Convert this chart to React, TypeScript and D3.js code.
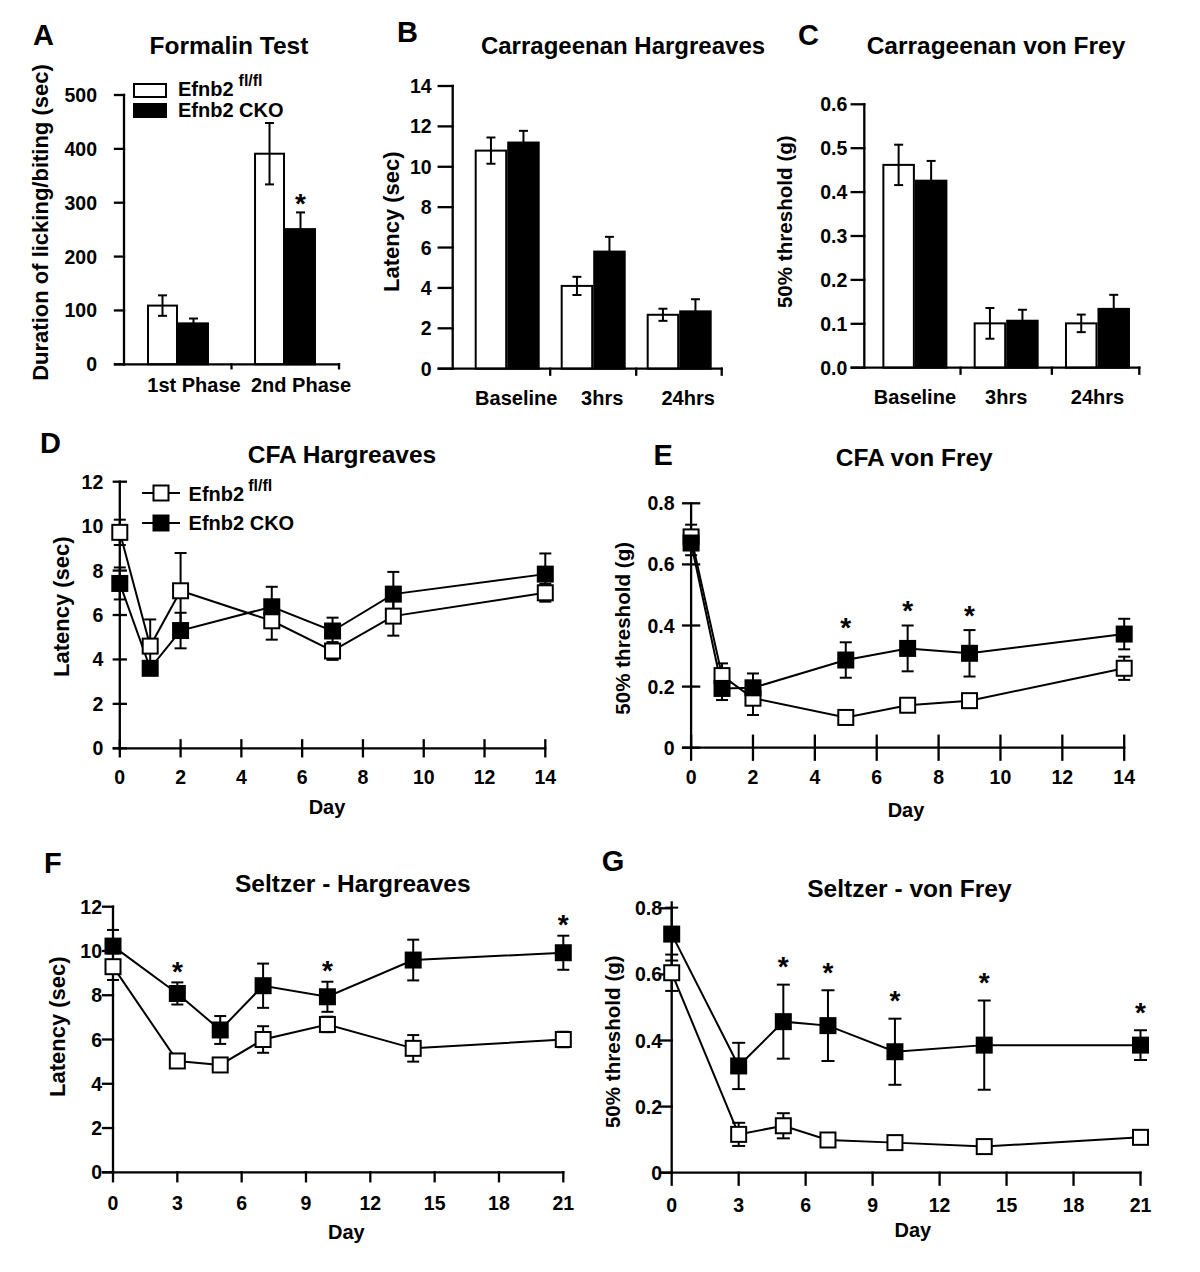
import React from "react";
import * as d3 from "d3";

const FONT = "'Liberation Sans', Arial, Helvetica, sans-serif";

// ---------- Legend ----------
const legendNames = ["Efnb2", "Efnb2 CKO"];
const legendSup = "fl/fl";

// ---------- A: Formalin test ----------
const formalinCategories = ["1st Phase", "2nd Phase"];
const formalinFlox = [109, 391];
const formalinFloxErr = [19, 57];
const formalinCko = [76, 251];
const formalinCkoErr = [9, 31];
const formalinSig = [false, true];
const formalinTicks = [0, 100, 200, 300, 400, 500];

// ---------- B: Carrageenan Hargreaves ----------
const carrCategories = ["Baseline", "3hrs", "24hrs"];
const carrHargFlox = [10.8, 4.1, 2.67];
const carrHargFloxErr = [0.65, 0.45, 0.3];
const carrHargCko = [11.2, 5.8, 2.84];
const carrHargCkoErr = [0.58, 0.73, 0.6];
const carrHargSig = [false, false, false];
const carrHargTicks = [0, 2, 4, 6, 8, 10, 12, 14];

// ---------- C: Carrageenan von Frey ----------
const carrVfFlox = [0.462, 0.101, 0.101];
const carrVfFloxErr = [0.046, 0.035, 0.02];
const carrVfCko = [0.426, 0.107, 0.134];
const carrVfCkoErr = [0.045, 0.025, 0.032];
const carrVfSig = [false, false, false];
const carrVfTicks = [0, 0.1, 0.2, 0.3, 0.4, 0.5, 0.6];

// ---------- D: CFA Hargreaves ----------
const cfaDays = [0, 1, 2, 5, 7, 9, 14];
const cfaDayTicks = [0, 2, 4, 6, 8, 10, 12, 14];
const cfaHargFlox = [9.72, 4.6, 7.09, 5.74, 4.38, 5.95, 7.0];
const cfaHargFloxErr = [0.57, 1.2, 1.7, 0.85, 0.4, 0.88, 0.4];
const cfaHargCko = [7.42, 3.6, 5.3, 6.37, 5.28, 6.94, 7.84];
const cfaHargCkoErr = [0.72, 0.3, 0.8, 0.9, 0.6, 1.0, 0.93];
const cfaHargSig = [false, false, false, false, false, false, false];
const latencyTicks12 = [0, 2, 4, 6, 8, 10, 12];

// ---------- E: CFA von Frey ----------
const cfaVfFlox = [0.69, 0.236, 0.162, 0.099, 0.139, 0.154, 0.26];
const cfaVfFloxErr = [0.04, 0.04, 0.055, 0.01, 0.02, 0.02, 0.038];
const cfaVfCko = [0.67, 0.194, 0.196, 0.287, 0.325, 0.309, 0.372];
const cfaVfCkoErr = [0.04, 0.038, 0.047, 0.058, 0.075, 0.076, 0.05];
const cfaVfSig = [false, false, false, true, true, true, false];
const threshTicks08 = [0, 0.2, 0.4, 0.6, 0.8];

// ---------- F: Seltzer Hargreaves ----------
const seltzerDays = [0, 3, 5, 7, 10, 14, 21];
const seltzerDayTicks = [0, 3, 6, 9, 12, 15, 18, 21];
const selHargFlox = [9.29, 5.03, 4.85, 6.0, 6.68, 5.6, 6.0];
const selHargFloxErr = [0.6, 0.15, 0.3, 0.6, 0.35, 0.6, 0.35];
const selHargCko = [10.22, 8.08, 6.43, 8.43, 7.93, 9.59, 9.92];
const selHargCkoErr = [0.73, 0.5, 0.63, 1.0, 0.68, 0.92, 0.77];
const selHargSig = [false, true, false, false, true, false, true];

// ---------- G: Seltzer von Frey ----------
const selVfFlox = [0.605, 0.116, 0.142, 0.099, 0.091, 0.079, 0.107];
const selVfFloxErr = [0.055, 0.035, 0.038, 0.01, 0.01, 0.01, 0.01];
const selVfCko = [0.722, 0.323, 0.457, 0.445, 0.366, 0.386, 0.386];
const selVfCkoErr = [0.08, 0.07, 0.112, 0.107, 0.1, 0.135, 0.045];
const selVfSig = [false, false, true, true, true, true, true];

const fmtInt = (v: number) => String(v);
const fmt1 = (v: number) => v.toFixed(1);
const fmtThresh = (v: number) => (v === 0 ? "0" : v.toFixed(1));

const SW = 2;
const AXW = 2.3;
const STAR = 28;

function PanelText({ c }: { c: any }) {
  return (
    <g fontFamily={FONT} fontWeight="bold" fill="#000">
      <text x={c.letterX} y={c.letterY} fontSize={29}>{c.letter}</text>
      <text x={c.titleX} y={c.titleY} fontSize={c.titleSize} textAnchor="middle">{c.title}</text>
      <text
        transform={`translate(${c.yLabelX},${c.yLabelY}) rotate(-90)`}
        fontSize={c.yLabelSize}
        textAnchor="middle"
        dy="0.35em"
      >
        {c.yLabel}
      </text>
    </g>
  );
}

function BarPanel({ c }: { c: any }) {
  const x = d3
    .scaleBand<string>()
    .domain(c.categories)
    .range([c.left, c.right])
    .paddingInner(c.pi)
    .paddingOuter(c.po)
    .align(c.align);
  const y = d3.scaleLinear().domain(c.yDomain).range([c.bottom, c.top]);
  const groups = ["flox", "cko"];
  const sub = d3.scaleBand<string>().domain(groups).range([0, x.bandwidth()]);
  const seps = c.categories.slice(1).map((cat: string) => (x(cat) as number) - (x.step() * x.paddingInner()) / 2);
  const cap = 9;
  const items: any[] = [];
  c.categories.forEach((cat: string, i: number) => {
    groups.forEach((g) => {
      const v = g === "flox" ? c.flox[i] : c.cko[i];
      const e = g === "flox" ? c.floxErr[i] : c.ckoErr[i];
      const bx = (x(cat) as number) + (sub(g) as number);
      items.push({ key: cat + g, g, v, e, bx, bw: sub.bandwidth(), sig: g === "cko" && c.sig[i] });
    });
  });
  return (
    <g>
      {items.map((d) => (
        <rect
          key={"b" + d.key}
          x={d.bx + 1}
          y={y(d.v)}
          width={d.bw - 2}
          height={y(0) - y(d.v)}
          fill={d.g === "flox" ? "#fff" : "#000"}
          stroke="#000"
          strokeWidth={SW}
        />
      ))}
      {items.map((d) => {
        const cx = d.bx + d.bw / 2;
        return (
          <g key={"e" + d.key} stroke="#000" strokeWidth={SW}>
            <line x1={cx} x2={cx} y1={y(d.v - d.e)} y2={y(d.v + d.e)} />
            <line x1={cx - cap / 2} x2={cx + cap / 2} y1={y(d.v + d.e)} y2={y(d.v + d.e)} />
            <line x1={cx - cap / 2} x2={cx + cap / 2} y1={y(d.v - d.e)} y2={y(d.v - d.e)} />
          </g>
        );
      })}
      {items
        .filter((d) => d.sig)
        .map((d) => (
          <text
            key={"s" + d.key}
            x={d.bx + d.bw / 2}
            y={y(d.v + d.e) - c.starGap + 0.56 * STAR}
            fontFamily={FONT}
            fontWeight="bold"
            fontSize={STAR}
            textAnchor="middle"
          >
            *
          </text>
        ))}
      {/* axes */}
      <g stroke="#000" strokeWidth={AXW} strokeLinecap="square">
        <line x1={c.left} x2={c.left} y1={y(c.yDomain[0])} y2={y(c.yDomain[1])} />
        <line x1={c.left - c.tickLen} x2={c.right} y1={y(0)} y2={y(0)} />
        {c.yTicks.map((t: number) => (
          <line key={"yt" + t} x1={c.left - c.tickLen} x2={c.left} y1={y(t)} y2={y(t)} />
        ))}
        {seps.concat([c.right]).map((s: number, i: number) => (
          <line key={"xs" + i} x1={s} x2={s} y1={y(0)} y2={y(0) + c.sepLen} />
        ))}
      </g>
      <g fontFamily={FONT} fontWeight="bold" fill="#000">
        {c.yTicks.map((t: number) => (
          <text key={"yl" + t} x={c.tickLabelEnd} y={y(t)} dy="0.36em" fontSize={19.5} textAnchor="end">
            {c.fmt(t)}
          </text>
        ))}
        {c.categories.map((cat: string) => (
          <text
            key={"xl" + cat}
            x={(x(cat) as number) + x.bandwidth() / 2 + c.catOffset}
            y={c.catBaseline}
            fontSize={20}
            textAnchor="middle"
          >
            {cat}
          </text>
        ))}
      </g>
      <PanelText c={c} />
    </g>
  );
}

function LinePanel({ c }: { c: any }) {
  const x = d3.scaleLinear().domain(c.xDomain).range([c.x0, c.x1]);
  const y = d3.scaleLinear().domain(c.yDomain).range([c.y0, c.y1]);
  const line = d3
    .line<[number, number]>()
    .x((d) => x(d[0]))
    .y((d) => y(d[1]));
  const floxPts: [number, number][] = c.days.map((d: number, i: number) => [d, c.flox[i]]);
  const ckoPts: [number, number][] = c.days.map((d: number, i: number) => [d, c.cko[i]]);
  const m = c.marker;
  const cap = c.cap;
  const errs = (vals: number[], es: number[], key: string) =>
    c.days.map((d: number, i: number) => {
      const cx = x(d);
      const hi = y(vals[i] + es[i]);
      const lo = y(vals[i] - es[i]);
      return (
        <g key={key + i} stroke="#000" strokeWidth={SW}>
          <line x1={cx} x2={cx} y1={lo} y2={hi} />
          <line x1={cx - cap / 2} x2={cx + cap / 2} y1={hi} y2={hi} />
          <line x1={cx - cap / 2} x2={cx + cap / 2} y1={lo} y2={lo} />
        </g>
      );
    });
  const yTop = y(c.yDomain[1]) - (c.yAxisExt || 0);
  return (
    <g>
      {/* axes */}
      <g stroke="#000" strokeWidth={AXW} strokeLinecap="square">
        <line x1={c.x0} x2={c.x0} y1={y(0)} y2={yTop} />
        <line x1={c.x0 - c.yTickLeft} x2={c.x1} y1={y(0)} y2={y(0)} />
        {c.yTicks.map((t: number) => (
          <line key={"yt" + t} x1={c.x0 - c.yTickLeft} x2={c.x0 + c.yTickRight} y1={y(t)} y2={y(t)} />
        ))}
        {c.xTicks.map((t: number) => (
          <line key={"xt" + t} x1={x(t)} x2={x(t)} y1={y(0) - c.xTickUp} y2={y(0) + c.xTickDown} />
        ))}
      </g>
      {errs(c.flox, c.floxErr, "ef")}
      {errs(c.cko, c.ckoErr, "ec")}
      <path d={line(floxPts) as string} fill="none" stroke="#000" strokeWidth={SW} />
      <path d={line(ckoPts) as string} fill="none" stroke="#000" strokeWidth={SW} />
      {floxPts.map((p, i) => (
        <rect
          key={"mf" + i}
          x={x(p[0]) - m / 2}
          y={y(p[1]) - m / 2}
          width={m}
          height={m}
          fill="#fff"
          stroke="#000"
          strokeWidth={SW}
        />
      ))}
      {ckoPts.map((p, i) => (
        <rect
          key={"mc" + i}
          x={x(p[0]) - m / 2}
          y={y(p[1]) - m / 2}
          width={m}
          height={m}
          fill="#000"
          stroke="#000"
          strokeWidth={SW}
        />
      ))}
      <g fontFamily={FONT} fontWeight="bold" fill="#000">
        {c.days.map((d: number, i: number) =>
          c.sig[i] ? (
            <text
              key={"st" + i}
              x={x(d)}
              y={y(c.cko[i] + c.ckoErr[i]) - c.starGap + 0.56 * STAR}
              fontSize={STAR}
              textAnchor="middle"
            >
              *
            </text>
          ) : null
        )}
        {c.yTicks.map((t: number) => (
          <text key={"yl" + t} x={c.tickLabelEnd} y={y(t)} dy="0.36em" fontSize={19.5} textAnchor="end">
            {c.fmt(t)}
          </text>
        ))}
        {c.xTicks.map((t: number) => (
          <text key={"xl" + t} x={x(t)} y={c.xLabelY} dy="0.36em" fontSize={19.5} textAnchor="middle">
            {t}
          </text>
        ))}
        <text x={c.dayX} y={c.dayY} dy="0.36em" fontSize={20} textAnchor="middle">
          Day
        </text>
      </g>
      <PanelText c={c} />
    </g>
  );
}

const panelA = {
  letter: "A", letterX: 33, letterY: 45,
  title: "Formalin Test", titleX: 229, titleY: 54, titleSize: 24.5,
  yLabel: "Duration of licking/biting (sec)", yLabelX: 40, yLabelY: 222.5, yLabelSize: 22,
  categories: formalinCategories,
  flox: formalinFlox, floxErr: formalinFloxErr, cko: formalinCko, ckoErr: formalinCkoErr, sig: formalinSig,
  yDomain: [0, 500], yTicks: formalinTicks, fmt: fmtInt,
  left: 124, right: 339, bottom: 364.3, top: 95,
  pi: 0.421, po: 0.215, align: 0.5,
  tickLen: 9, tickLabelEnd: 97, sepLen: 4,
  catOffset: 16, catBaseline: 392, starGap: 15,
};

const panelB = {
  letter: "B", letterX: 397, letterY: 42,
  title: "Carrageenan Hargreaves", titleX: 623, titleY: 54, titleSize: 24,
  yLabel: "Latency (sec)", yLabelX: 391, yLabelY: 221.7, yLabelSize: 22,
  categories: carrCategories,
  flox: carrHargFlox, floxErr: carrHargFloxErr, cko: carrHargCko, ckoErr: carrHargCkoErr, sig: carrHargSig,
  yDomain: [0, 14], yTicks: carrHargTicks, fmt: fmtInt,
  left: 452.7, right: 721.7, bottom: 368.7, top: 86,
  pi: 0.244, po: 0.186, align: 0.6875,
  tickLen: 14, tickLabelEnd: 431.7, sepLen: 6,
  catOffset: 9, catBaseline: 405, starGap: 15,
};

const panelC = {
  letter: "C", letterX: 798, letterY: 45,
  title: "Carrageenan von Frey", titleX: 996, titleY: 54, titleSize: 24.5,
  yLabel: "50% threshold (g)", yLabelX: 785, yLabelY: 221.7, yLabelSize: 20.6,
  categories: carrCategories,
  flox: carrVfFlox, floxErr: carrVfFloxErr, cko: carrVfCko, ckoErr: carrVfCkoErr, sig: carrVfSig,
  yDomain: [0, 0.6], yTicks: carrVfTicks, fmt: fmt1,
  left: 864.3, right: 1139.3, bottom: 367.7, top: 104.3,
  pi: 0.288, po: 0.15, align: 0.66,
  tickLen: 12.6, tickLabelEnd: 847.3, sepLen: 6,
  catOffset: 0, catBaseline: 404, starGap: 15,
};

const panelD = {
  letter: "D", letterX: 40, letterY: 453,
  title: "CFA Hargreaves", titleX: 342, titleY: 463.3, titleSize: 24.5,
  yLabel: "Latency (sec)", yLabelX: 61, yLabelY: 606.7, yLabelSize: 22,
  days: cfaDays, flox: cfaHargFlox, floxErr: cfaHargFloxErr, cko: cfaHargCko, ckoErr: cfaHargCkoErr, sig: cfaHargSig,
  xDomain: [0, 14], xTicks: cfaDayTicks, yDomain: [0, 12], yTicks: latencyTicks12, fmt: fmtInt,
  x0: 119.8, x1: 545.3, y0: 748.3, y1: 481.7,
  xTickUp: 8, xTickDown: 8, yTickLeft: 6, yTickRight: 6,
  tickLabelEnd: 103.3, xLabelY: 776.7, dayX: 327, dayY: 806.7,
  marker: 15, cap: 12, starGap: 21,
};

const panelE = {
  letter: "E", letterX: 653.6, letterY: 465,
  title: "CFA von Frey", titleX: 914.2, titleY: 465.7, titleSize: 24.5,
  yLabel: "50% threshold (g)", yLabelX: 623, yLabelY: 628.3, yLabelSize: 20.6,
  days: cfaDays, flox: cfaVfFlox, floxErr: cfaVfFloxErr, cko: cfaVfCko, ckoErr: cfaVfCkoErr, sig: cfaVfSig,
  xDomain: [0, 14], xTicks: cfaDayTicks, yDomain: [0, 0.8], yTicks: threshTicks08, fmt: fmtThresh,
  x0: 691.1, x1: 1124.2, y0: 747.7, y1: 503.3,
  xTickUp: 12, xTickDown: 12, yTickLeft: 8, yTickRight: 8,
  tickLabelEnd: 674.6, xLabelY: 776.7, dayX: 906, dayY: 810,
  marker: 15, cap: 12, starGap: 21,
};

const panelF = {
  letter: "F", letterX: 44, letterY: 873,
  title: "Seltzer - Hargreaves", titleX: 352.8, titleY: 891.7, titleSize: 24.5,
  yLabel: "Latency (sec)", yLabelX: 57.4, yLabelY: 1026.7, yLabelSize: 22,
  days: seltzerDays, flox: selHargFlox, floxErr: selHargFloxErr, cko: selHargCko, ckoErr: selHargCkoErr, sig: selHargSig,
  xDomain: [0, 21], xTicks: seltzerDayTicks, yDomain: [0, 12], yTicks: latencyTicks12, fmt: fmtInt,
  x0: 113, x1: 563.3, y0: 1172.3, y1: 906.7,
  xTickUp: 0, xTickDown: 9, yTickLeft: 10, yTickRight: 0,
  tickLabelEnd: 102, xLabelY: 1203.3, dayX: 346.3, dayY: 1231.7,
  marker: 15, cap: 12, starGap: 17,
};

const panelG = {
  letter: "G", letterX: 601.7, letterY: 870.7,
  title: "Seltzer - von Frey", titleX: 909.4, titleY: 896.7, titleSize: 24.5,
  yLabel: "50% threshold (g)", yLabelX: 613, yLabelY: 1041.7, yLabelSize: 20.6,
  days: seltzerDays, flox: selVfFlox, floxErr: selVfFloxErr, cko: selVfCko, ckoErr: selVfCkoErr, sig: selVfSig,
  xDomain: [0, 21], xTicks: seltzerDayTicks, yDomain: [0, 0.8], yTicks: threshTicks08, fmt: fmtThresh,
  x0: 671.7, x1: 1140.5, y0: 1172.7, y1: 908.3, yAxisExt: 6,
  xTickUp: 0, xTickDown: 12, yTickLeft: 11, yTickRight: 0,
  tickLabelEnd: 662, xLabelY: 1205, dayX: 912.9, dayY: 1230,
  marker: 15, cap: 13, starGap: 24,
};

function LegendA() {
  return (
    <g fontFamily={FONT} fontWeight="bold" fill="#000">
      <rect x={134} y={84} width={32} height={13} fill="#fff" stroke="#000" strokeWidth={SW} />
      <rect x={134} y={104} width={32} height={13} fill="#000" stroke="#000" strokeWidth={SW} />
      <text x={178} y={96} fontSize={20}>
        {legendNames[0]}
        <tspan fontSize={16} dx={5} dy={-10}>{legendSup}</tspan>
      </text>
      <text x={178} y={117} fontSize={20}>{legendNames[1]}</text>
    </g>
  );
}

function LegendD() {
  const rows = [
    { y: 493, fill: "#fff", base: 500.5 },
    { y: 523, fill: "#000", base: 530 },
  ];
  return (
    <g fontFamily={FONT} fontWeight="bold" fill="#000">
      {rows.map((r, i) => (
        <g key={i}>
          <line x1={142} x2={180} y1={r.y} y2={r.y} stroke="#000" strokeWidth={SW} />
          <rect x={161 - 7.5} y={r.y - 7.5} width={15} height={15} fill={r.fill} stroke="#000" strokeWidth={SW} />
          <text x={188.6} y={r.base} fontSize={20}>
            {legendNames[i]}
            {i === 0 ? (
              <tspan fontSize={16} dx={4} dy={-10}>{legendSup}</tspan>
            ) : null}
          </text>
        </g>
      ))}
    </g>
  );
}

export default function App() {
  return (
    <div style={{ position: "absolute", left: 0, top: 0 }}>
      <svg width={1200} height={1272} viewBox="0 0 1200 1272" style={{ display: "block", background: "#fff" }}>
        <rect x={0} y={0} width={1200} height={1272} fill="#fff" />
        <BarPanel c={panelA} />
        <LegendA />
        <BarPanel c={panelB} />
        <BarPanel c={panelC} />
        <LinePanel c={panelD} />
        <LegendD />
        <LinePanel c={panelE} />
        <LinePanel c={panelF} />
        <LinePanel c={panelG} />
      </svg>
    </div>
  );
}
